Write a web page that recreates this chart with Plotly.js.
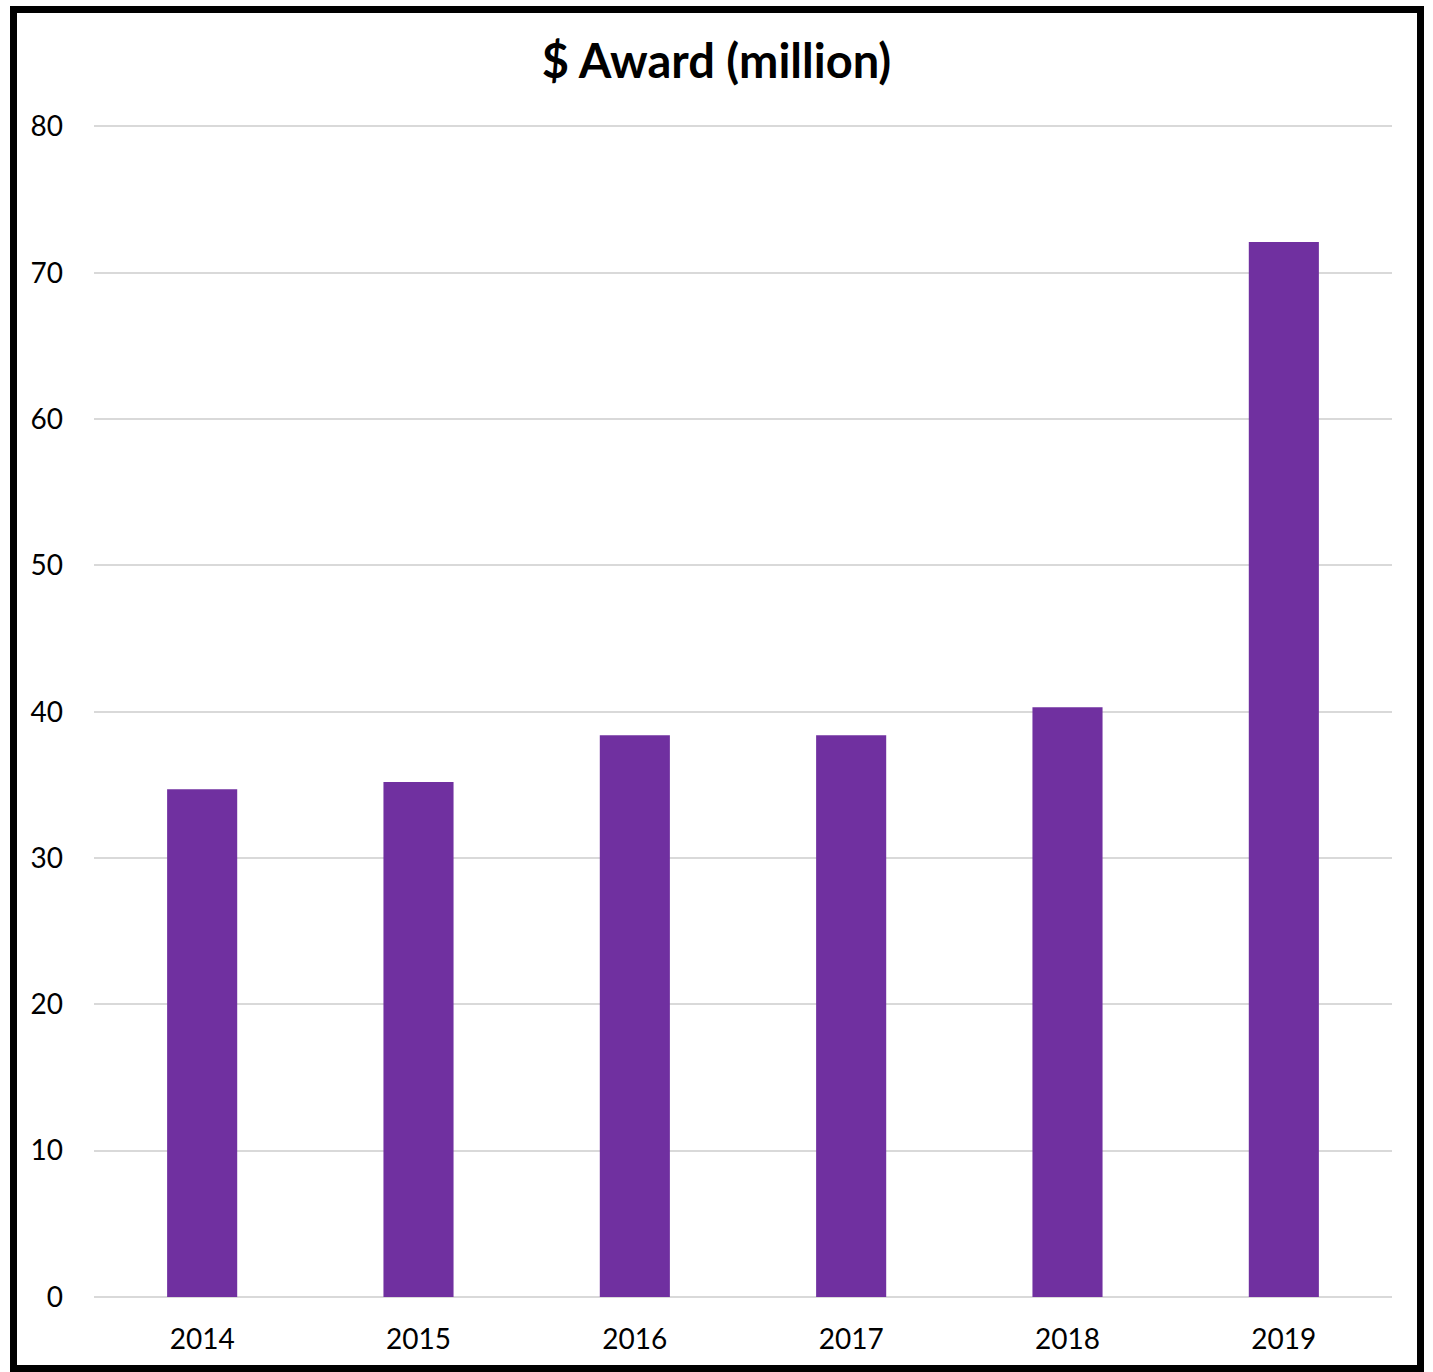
<!DOCTYPE html>
<html>
<head>
<meta charset="utf-8">
<script src="https://cdn.plot.ly/plotly-3.0.1.min.js"></script>
<style>
html,body{margin:0;padding:0;background:#fff;}
#wrap{position:relative;width:1433px;height:1372px;}
#chart{position:absolute;left:0;top:0;width:1433px;height:1372px;}
#frame{position:absolute;left:10px;top:6px;width:1414px;height:1366px;border:7px solid #000;box-sizing:border-box;pointer-events:none;}
</style>
</head>
<body>
<div id="wrap"><div id="chart"></div><div id="frame"></div></div>
<script>
const years = ['2014','2015','2016','2017','2018','2019'];
const awards = [34.7, 35.2, 38.4, 38.4, 40.3, 72.1];
const yTicks = [0,10,20,30,40,50,60,70,80];

Plotly.newPlot('chart', [{
  type: 'bar',
  x: years,
  y: awards,
  marker: {color: '#7030A0'},
  hoverinfo: 'x+y'
}], {
  width: 1433, height: 1372,
  paper_bgcolor: '#fff', plot_bgcolor: '#fff',
  margin: {l: 94, r: 41, t: 125, b: 75},
  bargap: 0.676,
  font: {family: 'Lato, "Open Sans", sans-serif', color: '#000'},
  title: {text: '<b>$ Award (million)</b>', x: 0.5, xanchor: 'center', y: 1 - 62/1372, yanchor: 'middle', font: {size: 47, color: '#000', family: 'Lato, "Open Sans", sans-serif'}},
  xaxis: {type: 'category', tickfont: {size: 28}, showgrid: false, showline: false, zeroline: false, ticks: '', ticklabelstandoff: 23},
  yaxis: {range: [0, 80.1], tickvals: yTicks, tickfont: {size: 28}, showgrid: true, gridcolor: '#d9d9d9', gridwidth: 2, zeroline: true, zerolinecolor: '#d9d9d9', zerolinewidth: 2, showline: false, ticks: '', ticklabelstandoff: 30},
  showlegend: false
}, {displayModeBar: false, staticPlot: true});
</script>
</body>
</html>
